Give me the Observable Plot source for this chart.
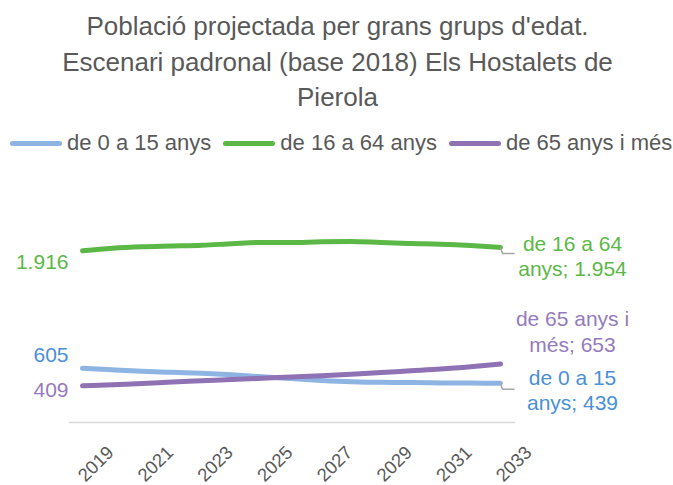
<!DOCTYPE html>
<html>
<head>
<meta charset="utf-8">
<script src="https://cdn.jsdelivr.net/npm/d3@7"></script>
<script src="https://cdn.jsdelivr.net/npm/@observablehq/plot@0.6"></script>
<style>
  html, body { margin: 0; padding: 0; background: #fff; }
  body { width: 673px; height: 485px; position: relative; overflow: hidden;
         font-family: "Liberation Sans", Arial, sans-serif; }
  #title { position: absolute; left: 0; top: 9px; width: 675px; text-align: center;
           font-size: 26px; line-height: 35.5px; color: #595959; }
  #legend { position: absolute; left: 10px; top: 130px; display: flex; align-items: center;
            font-size: 22px; color: #595959; white-space: nowrap; }
  .item { display: flex; align-items: center; margin-right: 12px; }
  .sw { width: 52px; height: 5px; border-radius: 3px; margin-right: 5px; }
  #chart { position: absolute; left: 0; top: 170px; }
</style>
</head>
<body>
<div id="title">Població projectada per grans grups d'edat.<br>Escenari padronal (base 2018) Els Hostalets de<br>Pierola</div>
<div id="legend"></div>
<div id="chart"></div>
<script>
const years = [2019,2020,2021,2022,2023,2024,2025,2026,2027,2028,2029,2030,2031,2032,2033];
const series = ["de 0 a 15 anys", "de 16 a 64 anys", "de 65 anys i més"];
const v0_15  = [605,588,572,560,549,532,510,490,470,455,448,447,442,440,439];
const v16_64 = [1916,1945,1962,1970,1978,1995,2010,2008,2018,2020,2008,1998,1990,1975,1954];
const v65    = [409,422,434,451,466,480,493,508,522,539,558,577,596,622,653];
const tickYears = [2019,2021,2023,2025,2027,2029,2031,2033];
const lineColors = ["#8db4e2", "#5bb846", "#8e72b4"];
const textColors = ["#4a8fd8", "#5bb846", "#957bbd"];
const endLabels = [["de 0 a 15", "anys; 439"], ["de 16 a 64", "anys; 1.954"], ["de 65 anys i", "més; 653"]];
const startLabels = ["605", "1.916", "409"];

const values = [v0_15, v16_64, v65];
const data = series.flatMap((s, i) => years.map((y, j) => ({series: s, year: y, value: values[i][j]})));

// legend
const leg = document.getElementById("legend");
series.forEach((s, i) => {
  const it = document.createElement("div"); it.className = "item";
  const sw = document.createElement("div"); sw.className = "sw"; sw.style.background = lineColors[i];
  const t = document.createElement("span"); t.textContent = s;
  it.appendChild(sw); it.appendChild(t); leg.appendChild(it);
});

const first = series.map((s, i) => ({series: s, year: years[0], value: values[i][0], label: startLabels[i]}));
const last = series.map((s, i) => ({series: s, year: years[years.length-1], value: values[i][years.length-1], label: endLabels[i].join("\n")}));

const elbow = {
  draw(ctx, size) {
    ctx.moveTo(0, 0);
    ctx.lineTo(2, 6);
    ctx.lineTo(14, 6);
  }
};

const font = "'Liberation Sans', Arial, sans-serif";
const lastOf = i => last.filter(d => d.series === series[i]);
const firstOf = i => first.filter(d => d.series === series[i]);

const chart = Plot.plot({
  width: 673,
  height: 315,
  marginTop: 28,
  marginBottom: 63,
  marginLeft: 82,
  marginRight: 173,
  style: {fontFamily: font, fontSize: "18px", color: "#595959", background: "transparent"},
  x: {domain: [2019, 2033], axis: null},
  y: {domain: [0, 2500], axis: null},
  color: {domain: series, range: lineColors},
  marks: [
    Plot.ruleY([0], {stroke: "#d9d9d9", strokeWidth: 1.5, insetLeft: -13, insetRight: -15}),
    Plot.text(tickYears, {x: d => d, y: 0, text: d => String(d), rotate: -45, textAnchor: "end",
      dx: 28, dy: 27, fill: "#595959", fontSize: 18.5}),
    Plot.lineY(data, {x: "year", y: "value", z: "series", stroke: "series", strokeWidth: 5,
      strokeLinecap: "round", strokeLinejoin: "round", curve: "monotone-x"}),
    Plot.dot(lastOf(0), {x: "year", y: "value", symbol: elbow, stroke: "#a6a6a6", strokeWidth: 1.5, fill: "none", r: 3}),
    Plot.dot(lastOf(1), {x: "year", y: "value", symbol: elbow, stroke: "#a6a6a6", strokeWidth: 1.5, fill: "none", r: 3}),
    ...[0,1,2].map(i => Plot.text(firstOf(i), {x: "year", y: "value", text: "label", textAnchor: "end",
      fill: textColors[i], fontSize: 21, dx: -14, dy: [-13, 11, 4][i]})),
    ...[0,1,2].map(i => Plot.text(lastOf(i), {x: "year", y: "value", text: "label", textAnchor: "middle",
      fill: textColors[i], fontSize: 21, lineHeight: 1.22, dx: 72, dy: [6, 8, -33][i]}))
  ]
});
document.getElementById("chart").appendChild(chart);
</script>
</body>
</html>
